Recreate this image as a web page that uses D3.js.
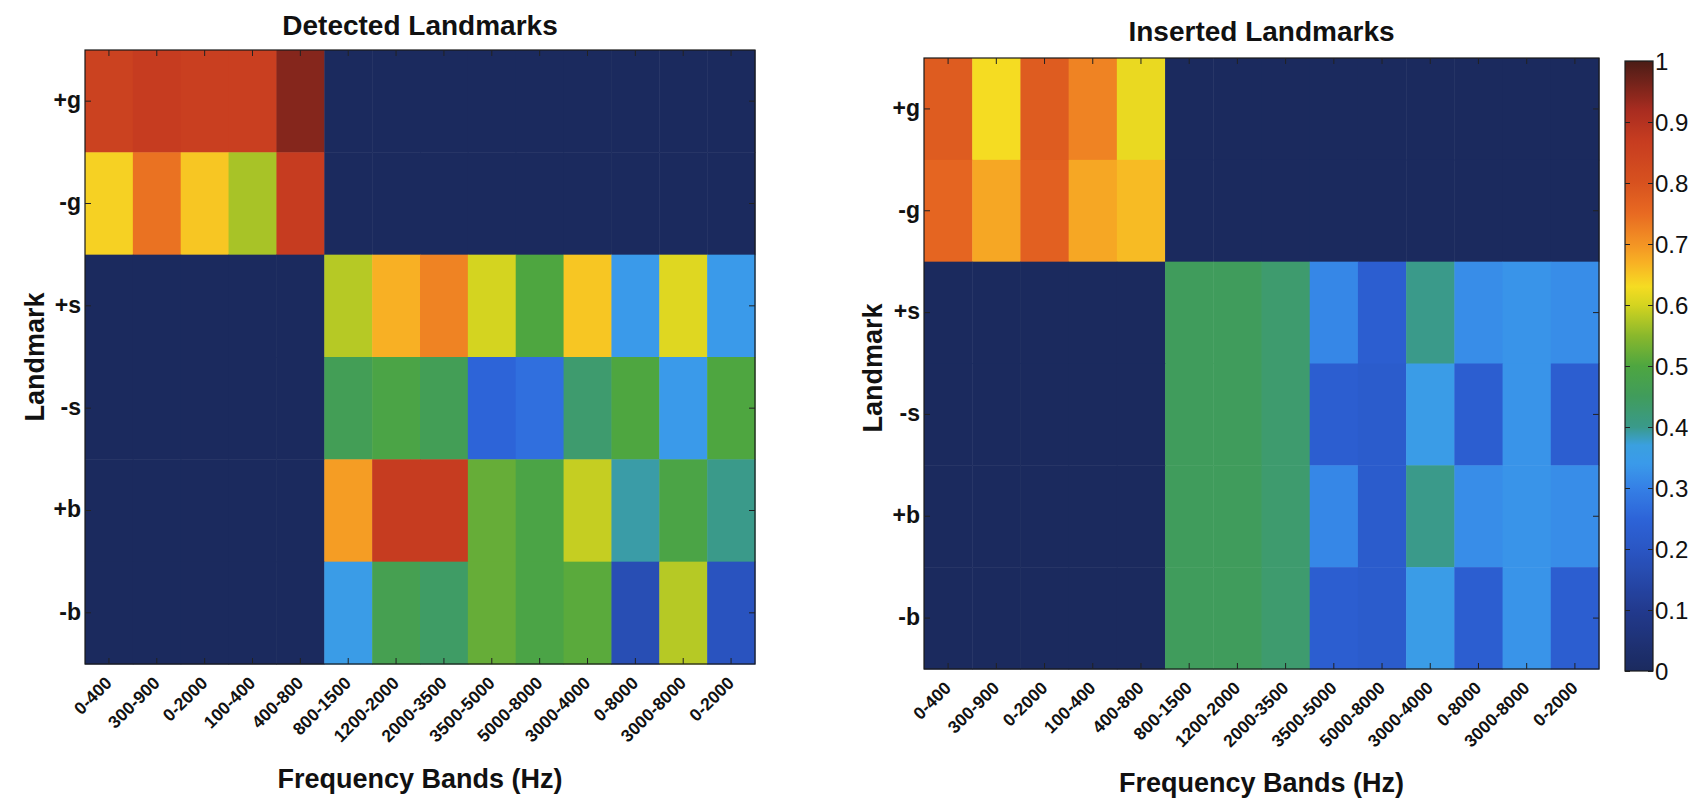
<!DOCTYPE html>
<html>
<head>
<meta charset="utf-8">
<script src="https://cdn.jsdelivr.net/npm/d3@7"></script>
<style>
  html, body { margin: 0; padding: 0; background: #fff; }
  svg { display: block; }
  text { font-family: "Liberation Sans", Arial, Helvetica, sans-serif; fill: #111; }
</style>
</head>
<body>
<svg id="chart" width="1698" height="802"></svg>
<script>
// Landmark rows and frequency-band columns
const landmarks = ["+g", "-g", "+s", "-s", "+b", "-b"];
const bands = ["0-400", "300-900", "0-2000", "100-400", "400-800", "800-1500", "1200-2000",
               "2000-3500", "3500-5000", "5000-8000", "3000-4000", "0-8000", "3000-8000", "0-2000"];

// Detected landmarks: one array per landmark row, one value per band
const detG_plus  = [0.85, 0.87, 0.86, 0.86, 0.95, 0, 0, 0, 0, 0, 0, 0, 0, 0];
const detG_minus = [0.64, 0.74, 0.65, 0.57, 0.87, 0, 0, 0, 0, 0, 0, 0, 0, 0];
const detS_plus  = [0, 0, 0, 0, 0, 0.58, 0.67, 0.72, 0.60, 0.50, 0.65, 0.34, 0.61, 0.34];
const detS_minus = [0, 0, 0, 0, 0, 0.46, 0.49, 0.46, 0.25, 0.27, 0.43, 0.50, 0.34, 0.50];
const detB_plus  = [0, 0, 0, 0, 0, 0.69, 0.87, 0.87, 0.52, 0.49, 0.59, 0.39, 0.49, 0.40];
const detB_minus = [0, 0, 0, 0, 0, 0.35, 0.47, 0.44, 0.52, 0.49, 0.51, 0.17, 0.58, 0.19];

// Inserted landmarks
const insG_plus  = [0.78, 0.63, 0.78, 0.72, 0.62, 0, 0, 0, 0, 0, 0, 0, 0, 0];
const insG_minus = [0.76, 0.68, 0.77, 0.68, 0.66, 0, 0, 0, 0, 0, 0, 0, 0, 0];
const insS_plus  = [0, 0, 0, 0, 0, 0.45, 0.45, 0.43, 0.31, 0.23, 0.40, 0.32, 0.33, 0.32];
const insS_minus = [0, 0, 0, 0, 0, 0.45, 0.45, 0.43, 0.23, 0.22, 0.35, 0.23, 0.33, 0.23];
const insB_plus  = [0, 0, 0, 0, 0, 0.45, 0.45, 0.43, 0.31, 0.22, 0.40, 0.32, 0.33, 0.32];
const insB_minus = [0, 0, 0, 0, 0, 0.45, 0.45, 0.43, 0.23, 0.22, 0.35, 0.23, 0.33, 0.23];

const detected = [detG_plus, detG_minus, detS_plus, detS_minus, detB_plus, detB_minus];
const inserted = [insG_plus, insG_minus, insS_plus, insS_minus, insB_plus, insB_minus];

// Colour bar ticks
const colorTicks = [0, 0.1, 0.2, 0.3, 0.4, 0.5, 0.6, 0.7, 0.8, 0.9, 1];

// Colour map: navy -> blue -> teal -> green -> yellow -> orange -> red -> dark brown
const cmapStops  = [0.00, 0.10, 0.20, 0.25, 0.30, 0.34, 0.37, 0.40, 0.45, 0.50, 0.55, 0.60, 0.63, 0.67, 0.70, 0.75, 0.80, 0.87, 0.92, 1.00];
const cmapColors = ["#1b2a5e", "#223a8e", "#2a56c4", "#2d64d8", "#3580e6", "#3a9aea", "#3aa0e0", "#3a9a8a",
                    "#409c5c", "#4ea640", "#8ab82c", "#d4d420", "#f5dc22", "#f8b024", "#f39424",
                    "#e86a22", "#d8521f", "#c63c20", "#a82c20", "#4a1c16"];
const color = d3.scaleLinear().domain(cmapStops).range(cmapColors).interpolate(d3.interpolateRgb).clamp(true);

const svg = d3.select("#chart");

function drawPanel(matrix, box) {
  const g = svg.append("g");
  const x = d3.scaleBand().domain(d3.range(bands.length)).range([box.x0, box.x1]);
  const y = d3.scaleBand().domain(d3.range(landmarks.length)).range([box.y0, box.y1]);

  // cells
  const cells = [];
  matrix.forEach((row, r) => row.forEach((v, c) => cells.push({ r, c, v })));
  g.append("g").selectAll("rect").data(cells).join("rect")
    .attr("x", d => x(d.c))
    .attr("y", d => y(d.r))
    .attr("width", x.bandwidth() + 0.5)
    .attr("height", y.bandwidth() + 0.5)
    .attr("fill", d => color(d.v));

  // frame
  g.append("rect")
    .attr("x", box.x0).attr("y", box.y0)
    .attr("width", box.x1 - box.x0).attr("height", box.y1 - box.y0)
    .attr("fill", "none").attr("stroke", "#1a1a1a").attr("stroke-width", 1.2);

  const tickLen = -6;
  // left axis with row labels
  const left = g.append("g").attr("transform", `translate(${box.x0},0)`)
    .call(d3.axisLeft(y).tickSize(tickLen).tickPadding(4).tickFormat(i => landmarks[i]));
  left.select(".domain").remove();
  left.selectAll("line").attr("stroke", "#222");
  left.selectAll("text").style("font-size", "23px").style("font-weight", "bold")
    .attr("dy", "0.3em");

  // right axis, ticks only
  const right = g.append("g").attr("transform", `translate(${box.x1},0)`)
    .call(d3.axisRight(y).tickSize(tickLen).tickFormat(""));
  right.select(".domain").remove();
  right.selectAll("line").attr("stroke", "#222");

  // top axis, ticks only
  const top = g.append("g").attr("transform", `translate(0,${box.y0})`)
    .call(d3.axisTop(x).tickSize(tickLen).tickFormat(""));
  top.select(".domain").remove();
  top.selectAll("line").attr("stroke", "#222");

  // bottom axis with slanted band labels
  const bottom = g.append("g").attr("transform", `translate(0,${box.y1})`)
    .call(d3.axisBottom(x).tickSize(tickLen).tickFormat(i => bands[i]));
  bottom.select(".domain").remove();
  bottom.selectAll("line").attr("stroke", "#222");
  bottom.selectAll("text")
    .attr("y", 0).attr("dy", 0)
    .attr("transform", "translate(4,20) rotate(-45)")
    .style("text-anchor", "end")
    .style("font-size", "17.5px").style("font-weight", "bold");

  return { x, y };
}

function title(text, cx, cy) {
  svg.append("text")
    .attr("transform", `translate(${cx},${cy})`)
    .attr("text-anchor", "middle")
    .style("font-size", "28px").style("font-weight", "bold")
    .text(text);
}

function axisLabel(text, cx, cy, rotate) {
  svg.append("text")
    .attr("transform", `translate(${cx},${cy})` + (rotate ? " rotate(-90)" : ""))
    .attr("text-anchor", "middle")
    .style("font-size", "27px").style("font-weight", "bold")
    .text(text);
}

// Detected panel
const leftBox = { x0: 85, x1: 755, y0: 50, y1: 664 };
drawPanel(detected, leftBox);
title("Detected Landmarks", (leftBox.x0 + leftBox.x1) / 2, 35);
axisLabel("Frequency Bands (Hz)", (leftBox.x0 + leftBox.x1) / 2, 788, false);
axisLabel("Landmark", 44, (leftBox.y0 + leftBox.y1) / 2, true);

// Inserted panel
const rightBox = { x0: 924, x1: 1599, y0: 58, y1: 669 };
drawPanel(inserted, rightBox);
title("Inserted Landmarks", (rightBox.x0 + rightBox.x1) / 2, 41);
axisLabel("Frequency Bands (Hz)", (rightBox.x0 + rightBox.x1) / 2, 792, false);
axisLabel("Landmark", 882, 368, true);

// Colour bar
const cb = { x0: 1625, x1: 1653, y0: 61, y1: 671 };
const cbScale = d3.scaleLinear().domain([0, 1]).range([cb.y1, cb.y0]);
const defs = svg.append("defs");
const grad = defs.append("linearGradient").attr("id", "cbGrad")
  .attr("x1", 0).attr("y1", 1).attr("x2", 0).attr("y2", 0);
grad.selectAll("stop").data(d3.range(0, 1.0001, 0.01)).join("stop")
  .attr("offset", d => d)
  .attr("stop-color", d => color(d));
svg.append("rect")
  .attr("x", cb.x0).attr("y", cb.y0)
  .attr("width", cb.x1 - cb.x0).attr("height", cb.y1 - cb.y0)
  .attr("fill", "url(#cbGrad)")
  .attr("stroke", "#1a1a1a").attr("stroke-width", 1.2);

const cbRight = svg.append("g").attr("transform", `translate(${cb.x1},0)`)
  .call(d3.axisRight(cbScale).tickValues(colorTicks).tickSize(-5).tickPadding(2)
    .tickFormat(d3.format("~g")));
cbRight.select(".domain").remove();
cbRight.selectAll("line").attr("stroke", "#222");
cbRight.selectAll("text").style("font-size", "24px").attr("dy", "0.35em");

const cbLeft = svg.append("g").attr("transform", `translate(${cb.x0},0)`)
  .call(d3.axisLeft(cbScale).tickValues(colorTicks).tickSize(-5).tickFormat(""));
cbLeft.select(".domain").remove();
cbLeft.selectAll("line").attr("stroke", "#222");
</script>
</body>
</html>
